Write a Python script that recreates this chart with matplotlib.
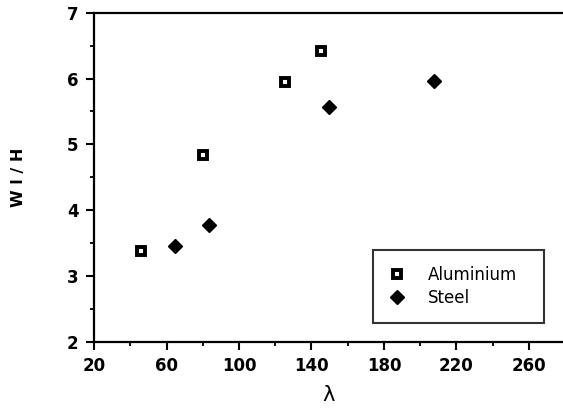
import matplotlib
matplotlib.use("Agg")
import matplotlib.pyplot as plt
from matplotlib.ticker import MultipleLocator

# datos
alu_lambda = [45.8, 80.3, 125.4, 145.1]
alu_wlh = [3.38, 4.84, 5.94, 6.42]
steel_lambda = [64.7, 83.6, 149.7, 207.8]
steel_wlh = [3.46, 3.78, 5.56, 5.96]
xticks = [20, 60, 100, 140, 180, 220, 260]
yticks = [2, 3, 4, 5, 6, 7]

plt.rcParams['font.family'] = ['DejaVu Sans']

fig = plt.figure(figsize=(5.63, 4.15), dpi=100)
ax = fig.add_axes([0.167, 0.1766, 0.833, 0.7928])

ax.plot(alu_lambda, alu_wlh, linestyle='none', marker='s', markersize=5.5,
        markerfacecolor='white', markeredgecolor='black', markeredgewidth=2.8,
        label='Aluminium')
ax.plot(steel_lambda, steel_wlh, linestyle='none', marker='D', markersize=7,
        color='black', label='Steel')

ax.set_xlim(20, 278.8)
ax.set_ylim(2, 7)
ax.set_xticks(xticks)
ax.set_yticks(yticks)
ax.xaxis.set_minor_locator(MultipleLocator(20))
ax.yaxis.set_minor_locator(MultipleLocator(0.5))
ax.tick_params(which='major', direction='out', length=6, width=1.5, labelsize=12, pad=5)
ax.tick_params(which='minor', direction='out', length=3, width=1.3)
for lbl in ax.get_xticklabels() + ax.get_yticklabels():
    lbl.set_fontweight('bold')

for s in ['left', 'bottom', 'top']:
    ax.spines[s].set_linewidth(1.6)
ax.spines['right'].set_visible(False)

ax.set_xlabel('λ', fontsize=15, labelpad=7)
ax.set_ylabel('W l / H', fontsize=11.5, fontweight='bold')
ax.yaxis.set_label_coords(-0.145, 0.5)

leg = ax.legend(loc='lower left', bbox_to_anchor=(0.5955, 0.0578, 0.3645, 0.218),
                mode='expand', fontsize=12, frameon=True, fancybox=False,
                edgecolor='black', handletextpad=1.3, handlelength=1.0,
                borderpad=0.95, labelspacing=0.32, borderaxespad=0)
leg.get_frame().set_linewidth(1.5)

fig.savefig('out.png', dpi=100)
